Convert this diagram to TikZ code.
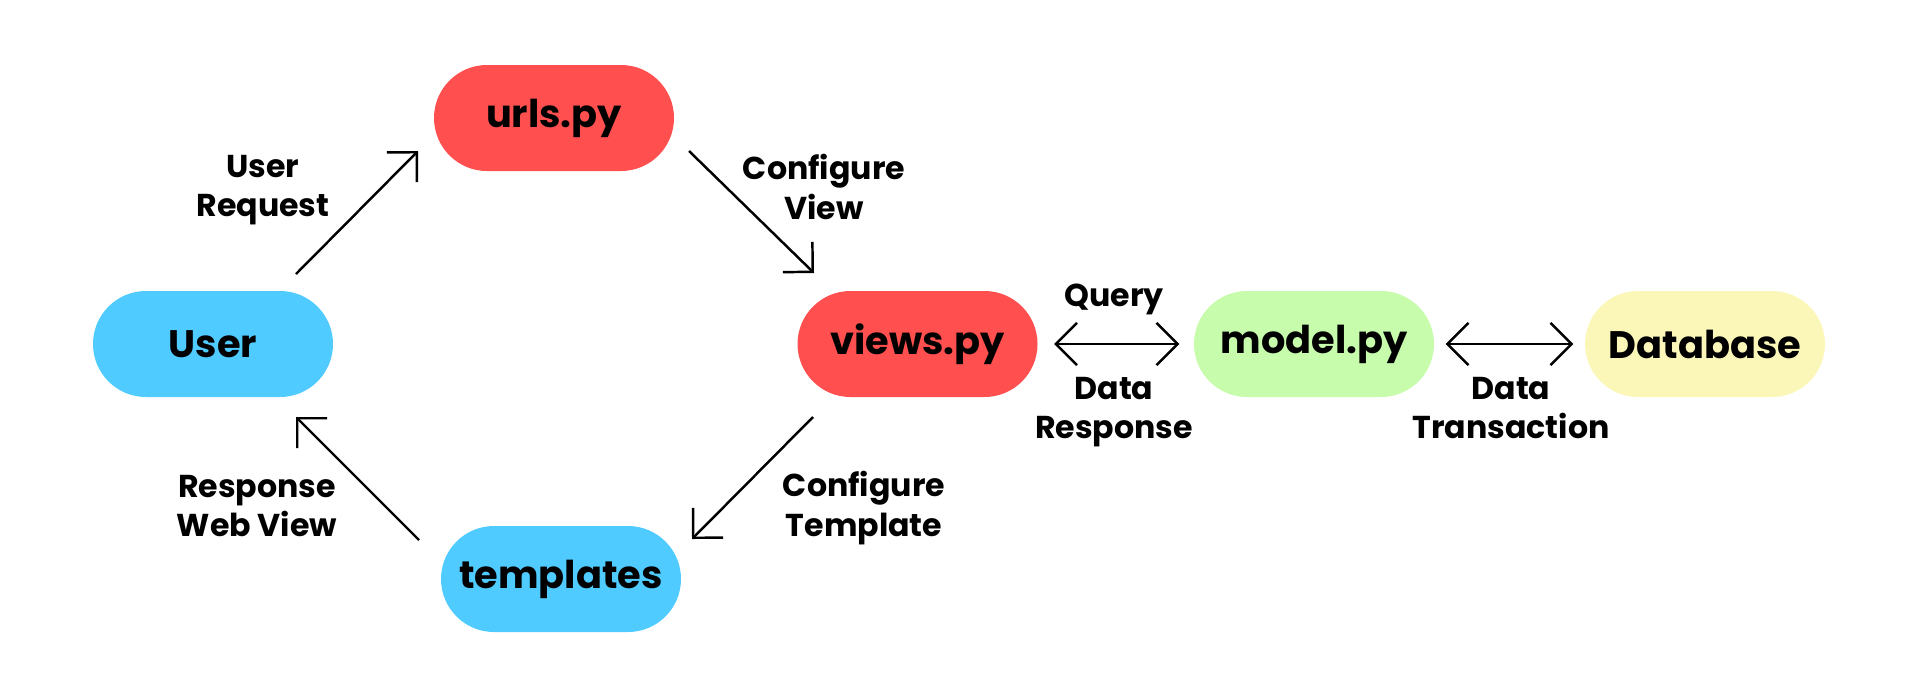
\documentclass[tikz,border=0pt]{standalone}
\usepackage{fontspec}
\setmainfont{Poppins}
\usepackage{tikz}
\usetikzlibrary{arrows.meta}
\definecolor{redbox}{RGB}{255,79,79}
\definecolor{bluebox}{RGB}{79,203,255}
\definecolor{greenbox}{RGB}{198,252,171}
\definecolor{yellowbox}{RGB}{250,247,185}
\tikzset{block/.style = {shape = rectangle, rounded corners = 0.53cm, minimum width = 2.4cm, minimum height = 1.06cm, inner sep = 0pt, font = \fontsize{10.9}{12}\selectfont\bfseries}}
\tikzset{lbl/.style = {align = center, font = \fontsize{9}{11.2}\selectfont\bfseries}}
\tikzset{edge/.style = {line width = 0.7pt, -{Straight Barb[length = 6pt, width = 12pt, line width = 0.7pt]}}}
\tikzset{twoway/.style = {line width = 0.7pt, {Straight Barb[length = 6pt, width = 12pt, line width = 0.7pt]}-{Straight Barb[length = 6pt, width = 12pt, line width = 0.7pt]}}}

\begin{document}
\begin{tikzpicture}
			\useasboundingbox (0, 0) rectangle (19.2, 6.83);

			\node[block, fill = bluebox] (user) at (2.13, 3.39) {User};
			\node[block, fill = redbox] (urls) at (5.54, 5.65) {urls.py};
			\node[block, fill = redbox] (views) at (9.175, 3.39) {views.py};
			\node[block, fill = greenbox] (model) at (13.14, 3.39) {model.py};
			\node[block, fill = yellowbox] (db) at (17.05, 3.39) {Database};
			\node[block, fill = bluebox] (tmpl) at (5.61, 1.04) {templates};

			\coordinate (ua) at (2.96, 4.09);
			\coordinate (ub) at (4.18, 5.32);
			\coordinate (va) at (6.89, 5.32);
			\coordinate (vb) at (8.14, 4.10);
			\coordinate (ta) at (8.13, 2.66);
			\coordinate (tb) at (6.92, 1.44);
			\coordinate (ra) at (4.19, 1.43);
			\coordinate (rb) at (2.96, 2.66);

			\draw[edge] (ua) to (ub);
			\draw[edge] (va) to (vb);
			\draw[edge] (ta) to (tb);
			\draw[edge] (ra) to (rb);
			\draw[twoway, shorten < = 0.16cm, shorten > = 0.14cm] (views) to (model);
			\draw[twoway, shorten < = 0.11cm, shorten > = 0.11cm] (model) to (db);

			\node[lbl] (l1) at (2.63, 4.93) {User\\Request};
			\node[lbl] (l2) at (8.24, 4.96) {Configure\\View};
			\node[lbl] (l3) at (11.14, 3.84) {Query};
			\node[lbl] (l4) at (11.14, 2.71) {Data\\Response};
			\node[lbl] (l5) at (15.11, 2.75) {Data\\Transaction};
			\node[lbl] (l6) at (2.57, 1.77) {Response\\Web View};
			\node[lbl] (l7) at (8.64, 1.75) {Configure\\Template};
		\end{tikzpicture}
\end{document}
